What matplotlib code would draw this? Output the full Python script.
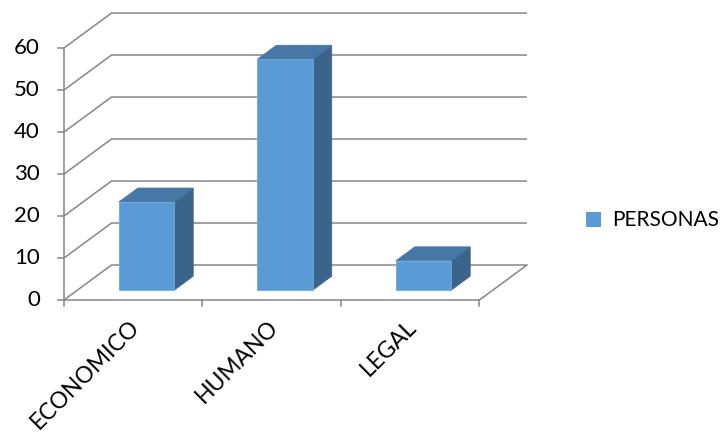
import matplotlib
matplotlib.use("Agg")
import matplotlib.pyplot as plt
from matplotlib.patches import Polygon

categories = ["ECONOMICO", "HUMANO", "LEGAL"]
personas = [21, 55, 7]
y_ticks = [0, 10, 20, 30, 40, 50, 60]
series_name = "PERSONAS"

# oblique projection of the depth axis, in data units
DX = 0.343   # horizontal shift of the back wall (category units)
DY = 8.33    # vertical shift of the back wall (value units)
BAR_W = 0.40
D0, D1 = 0.28, 0.68   # bar depth span as fraction of full depth

GRID = "#868686"
FRONT = "#5B9BD5"
SIDE = "#3A6489"
TOP = "#4677A6"

plt.rcParams["font.family"] = ["Lato", "DejaVu Sans"]

fig = plt.figure(figsize=(7.25, 4.36), dpi=100)
ax = fig.add_axes([0.01186, 0.2638, 0.745, 0.732])
ax.set_xlim(-0.4, 3.5)
ax.set_ylim(-5, 71)
ax.axis("off")

n = len(categories)
ymax = y_ticks[-1]

def off(x, y, d):
    return (x + d * DX, y + d * DY)

# gridlines: left wall diagonals and back wall horizontals
for v in y_ticks:
    ax.plot([0, DX, n + DX], [v, v + DY, v + DY], color=GRID, lw=1.1,
            solid_capstyle="butt", zorder=1)
    ax.plot([-0.045, 0], [v, v], color=GRID, lw=1.1, zorder=1)
    ax.text(-0.175, v, str(v), ha="right", va="center", fontsize=16, zorder=5)

# floor edges and value axis
ax.plot([0, n], [0, 0], color=GRID, lw=1.1, zorder=1)
ax.plot([n, n + DX], [0, DY], color=GRID, lw=1.1, zorder=1)
ax.plot([0, 0], [0, ymax], color=GRID, lw=1.1, zorder=1)
for i in range(n + 1):
    ax.plot([i, i], [0, -1.5], color=GRID, lw=1.1, zorder=1)

# 3-D columns
for i, v in enumerate(personas):
    x0 = i + 0.5 - BAR_W / 2
    x1 = i + 0.5 + BAR_W / 2
    front = [off(x0, 0, D0), off(x1, 0, D0), off(x1, v, D0), off(x0, v, D0)]
    side = [off(x1, 0, D0), off(x1, 0, D1), off(x1, v, D1), off(x1, v, D0)]
    top = [off(x0, v, D0), off(x1, v, D0), off(x1, v, D1), off(x0, v, D1)]
    ax.add_patch(Polygon(side, closed=True, facecolor=SIDE, edgecolor=SIDE,
                         lw=0.5, zorder=3))
    ax.add_patch(Polygon(top, closed=True, facecolor=TOP, edgecolor=TOP,
                         lw=0.5, zorder=3))
    ax.add_patch(Polygon(front, closed=True, facecolor=FRONT,
                         edgecolor="#6FA8DC", lw=0.6, zorder=4))

# category labels
for i, c in enumerate(categories):
    ax.text(i + 0.52, -5.6, c, rotation=45, rotation_mode="anchor",
            ha="right", va="center", fontsize=16.5, zorder=5)

# legend
fig.patches.append(plt.Rectangle((586 / 725, 1 - 227 / 436), 15 / 725, 15 / 436,
                                 transform=fig.transFigure, facecolor=FRONT,
                                 edgecolor="none"))
fig.text(612 / 725, 1 - 220 / 436, series_name, ha="left", va="center",
         fontsize=15)

fig.savefig("out.png", dpi=100)
